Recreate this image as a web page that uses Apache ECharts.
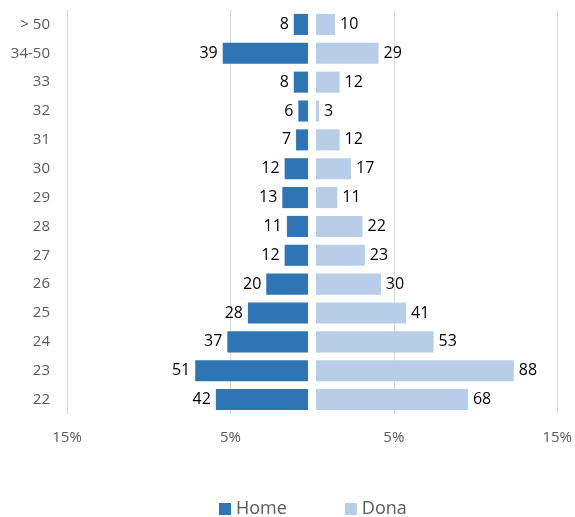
<!DOCTYPE html>
<html>
<head>
<meta charset="utf-8">
<script src="https://cdn.jsdelivr.net/npm/echarts@6/dist/echarts.min.js"></script>
<style>html,body{margin:0;padding:0;background:#fff}#c{width:575px;height:517px}</style>
</head>
<body>
<div id="c"></div>
<script>
const categories = ['22','23','24','25','26','27','28','29','30','31','32','33','34-50','> 50'];
const homeCounts = [42, 51, 37, 28, 20, 12, 11, 13, 12, 7, 6, 8, 39, 8];
const donaCounts = [68, 88, 53, 41, 30, 23, 22, 11, 17, 12, 3, 12, 29, 10];
const seriesNames = ['Home', 'Dona'];
const tickValues = [-15, -5, 5, 15];

const total = homeCounts.reduce((a,b)=>a+b,0) + donaCounts.reduce((a,b)=>a+b,0);
const homePct = homeCounts.map(v => -v / total * 100);
const donaPct = donaCounts.map(v => v / total * 100);

const FONT = '"Open Sans", sans-serif';
const chart = echarts.init(document.getElementById('c'), null, {renderer: 'canvas'});
chart.setOption({
  animation: false,
  textStyle: {fontFamily: FONT},
  legend: {
    data: seriesNames,
    top: 500,
    left: 219,
    padding: 0,
    icon: 'rect',
    itemWidth: 12,
    itemHeight: 12,
    itemGap: 58,
    textStyle: {fontSize: 18, color: '#595959', fontFamily: FONT}
  },
  grid: {left: 67, right: 17, top: 10, bottom: 103, containLabel: false},
  xAxis: {
    type: 'value',
    min: tickValues[0],
    max: tickValues[tickValues.length - 1],
    interval: 10,
    axisLine: {show: false},
    axisTick: {show: false},
    splitLine: {show: true, lineStyle: {color: '#d9d9d9', width: 1}},
    axisLabel: {
      margin: 16,
      fontSize: 15,
      color: '#595959',
      fontFamily: FONT,
      formatter: v => Math.abs(v) + '%'
    }
  },
  yAxis: {
    type: 'category',
    data: categories,
    axisLine: {show: false},
    axisTick: {show: false},
    axisLabel: {margin: 17, fontSize: 15, color: '#595959', fontFamily: FONT}
  },
  series: [
    {
      name: 'Home',
      type: 'bar',
      data: homePct,
      barGap: '-100%',
      barCategoryGap: '27%',
      itemStyle: {color: '#2E75B6'},
      label: {
        show: true,
        position: 'left',
        distance: 5,
        fontSize: 16,
        color: '#000',
        fontFamily: FONT,
        formatter: p => homeCounts[p.dataIndex]
      }
    },
    {
      name: 'Dona',
      type: 'bar',
      data: donaPct,
      barGap: '-100%',
      barCategoryGap: '27%',
      itemStyle: {color: '#B7CDE8'},
      label: {
        show: true,
        position: 'right',
        distance: 5,
        fontSize: 16,
        color: '#000',
        fontFamily: FONT,
        formatter: p => donaCounts[p.dataIndex]
      },
      markLine: {
        silent: true,
        symbol: ['none', 'none'],
        label: {show: false},
        lineStyle: {color: '#ffffff', width: 8, type: 'solid'},
        data: [{xAxis: 0}]
      }
    }
  ]
});
</script>
</body>
</html>
